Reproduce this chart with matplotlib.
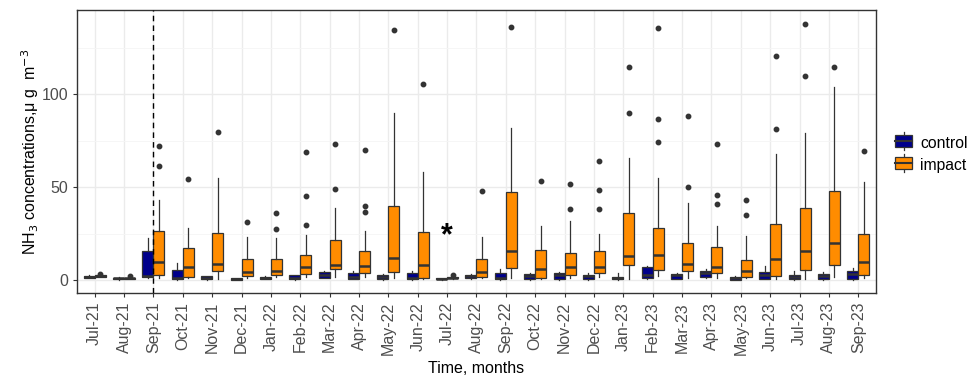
import matplotlib
matplotlib.use("Agg")
import matplotlib.pyplot as plt
from matplotlib.patches import Patch, Rectangle
from matplotlib.lines import Line2D

plt.rcParams['font.family'] = ['Liberation Sans', 'DejaVu Sans']

meses = ["Jul-21", "Aug-21", "Sep-21", "Oct-21", "Nov-21", "Dec-21", "Jan-22",
         "Feb-22", "Mar-22", "Apr-22", "May-22", "Jun-22", "Jul-22", "Aug-22",
         "Sep-22", "Oct-22", "Nov-22", "Dec-22", "Jan-23", "Feb-23", "Mar-23",
         "Apr-23", "May-23", "Jun-23", "Jul-23", "Aug-23", "Sep-23"]

# control: cuartiles, mediana y bigotes
ctrl_q1 = [1.4, 0.5, 1.6, 0.4, 0.5, 0.2, 0.7, 0.4, 1.4, 0.7, 0.4, 0.4, 0.5, 0.9,
           0.5, 0.5, 0.5, 0.5, 0.4, 1.2, 0.7, 1.6, 0.2, 0.7, 0.5, 0.5, 0.5]
ctrl_med = [1.9, 0.9, 2.3, 0.9, 1.2, 0.5, 1.2, 0.9, 2.8, 1.8, 1.8, 1.2, 0.8, 2.0,
            1.2, 2.1, 2.5, 2.3, 1.0, 2.7, 2.7, 3.7, 0.9, 2.7, 1.6, 2.0, 3.4]
ctrl_q3 = [2.3, 1.4, 15.5, 5.7, 2.0, 1.2, 1.6, 2.5, 4.4, 4.1, 3.0, 3.6, 1.2, 2.7,
           3.9, 3.2, 3.9, 2.7, 1.8, 7.1, 3.4, 5.0, 1.6, 4.4, 3.0, 3.2, 4.8]
ctrl_lo = [1.2, 0.3, 0.9, 0.2, 0.3, 0.1, 0.4, 0.2, 0.9, 0.4, 0.2, 0.2, 0.3, 0.5,
           0.3, 0.3, 0.3, 0.3, 0.2, 0.6, 0.4, 0.9, 0.1, 0.4, 0.3, 0.3, 0.3]
ctrl_hi = [2.6, 1.6, 22.6, 9.3, 2.4, 1.4, 2.3, 3.0, 5.0, 5.0, 3.4, 5.0, 1.4, 3.2,
           5.9, 3.9, 4.4, 3.9, 3.6, 7.7, 3.8, 6.2, 2.3, 7.8, 4.8, 4.4, 6.8]

# impact
imp_q1 = [1.8, 0.7, 3.0, 1.8, 4.8, 2.1, 2.8, 3.2, 5.9, 3.7, 4.4, 1.4, 0.9, 1.6,
          6.4, 1.2, 2.7, 3.7, 8.0, 5.3, 4.8, 3.9, 1.8, 2.0, 5.2, 8.4, 2.7]
imp_med = [2.2, 1.0, 10.0, 7.1, 8.7, 4.6, 5.0, 6.9, 8.2, 7.7, 11.9, 8.2, 1.2, 4.3,
           15.5, 6.2, 7.1, 6.9, 13.2, 13.3, 8.5, 7.3, 5.0, 11.2, 15.5, 19.9, 9.8]
imp_q3 = [2.7, 1.4, 26.2, 17.1, 25.3, 11.6, 11.6, 13.3, 21.7, 15.5, 39.7, 26.0, 1.6,
          11.2, 47.5, 16.0, 14.8, 15.7, 35.9, 28.1, 19.9, 17.6, 10.9, 30.2, 39.1,
          48.0, 25.1]
imp_lo = [1.6, 0.5, 1.2, 0.9, 0.5, 1.2, 1.6, 1.6, 1.6, 1.6, 0.9, 0.5, 0.7, 0.9,
          1.2, 0.7, 1.4, 1.6, 0.4, 2.3, 1.2, 1.4, 1.0, 0.5, 0.5, 1.6, 1.2]
imp_hi = [2.9, 1.6, 42.9, 27.9, 54.8, 23.1, 22.6, 24.4, 38.6, 26.5, 89.9, 58.4, 1.8,
          23.1, 81.9, 29.4, 31.7, 24.9, 65.5, 54.8, 41.6, 29.2, 23.8, 68.1, 79.4,
          104.1, 53.0]
imp_out = [[3.4], [2.1], [61.4, 72.4], [54.4], [79.5], [31.1], [27.8, 36.3],
           [29.7, 45.4, 69.2], [48.9, 73.5], [36.8, 39.9, 70.1], [134.7], [105.5],
           [3.0], [48.0], [136.1], [53.6], [38.3, 51.6], [38.1, 48.4, 64.4],
           [90.2, 114.8], [74.4, 86.5, 135.6], [50.2, 88.1], [40.9, 45.6, 73.3],
           [35.2, 43.4], [81.1, 120.5], [110.1, 137.9], [114.9], [69.6]]

COLOR_CTRL = "#00008B"
COLOR_IMP = "#FF8C00"
BORDE = "#333333"


def armar_stats(q1, med, q3, lo, hi, out=None):
    stats = []
    for i in range(len(q1)):
        stats.append({"q1": q1[i], "med": med[i], "q3": q3[i],
                      "whislo": lo[i], "whishi": hi[i],
                      "fliers": out[i] if out is not None else []})
    return stats


def dibujar(ax, stats, posiciones, color):
    ax.bxp(stats, positions=posiciones, widths=0.375, patch_artist=True,
           showcaps=False, manage_ticks=False,
           boxprops=dict(facecolor=color, edgecolor=BORDE, linewidth=0.9),
           medianprops=dict(color=BORDE, linewidth=1.8),
           whiskerprops=dict(color=BORDE, linewidth=0.9),
           flierprops=dict(marker='o', markersize=3.2, markerfacecolor=BORDE,
                           markeredgecolor=BORDE))


class HandlerCaja:
    """Dibuja la clave de la leyenda como una cajita de boxplot."""

    def legend_artist(self, legend, orig_handle, fontsize, handlebox):
        x0, y0 = handlebox.xdescent, handlebox.ydescent
        w, h = handlebox.width, handlebox.height
        tr = handlebox.get_transform()
        bigote = Line2D([x0 + w / 2, x0 + w / 2], [y0 - 0.2 * h, y0 + 1.2 * h],
                        color=BORDE, linewidth=0.9, transform=tr)
        caja = Rectangle((x0, y0 + 0.05 * h), w, 0.9 * h,
                         facecolor=orig_handle.get_facecolor(), edgecolor=BORDE,
                         linewidth=0.9, transform=tr)
        mediana = Line2D([x0, x0 + w], [y0 + h / 2, y0 + h / 2], color=BORDE,
                         linewidth=1.5, transform=tr)
        handlebox.add_artist(bigote)
        handlebox.add_artist(caja)
        handlebox.add_artist(mediana)
        return caja


fig = plt.figure(figsize=(9.79, 3.87), dpi=100)
ax = fig.add_axes([0.0787, 0.243, 0.816, 0.731])

x = list(range(1, len(meses) + 1))
dibujar(ax, armar_stats(ctrl_q1, ctrl_med, ctrl_q3, ctrl_lo, ctrl_hi),
        [v - 0.1875 for v in x], COLOR_CTRL)
dibujar(ax, armar_stats(imp_q1, imp_med, imp_q3, imp_lo, imp_hi, imp_out),
        [v + 0.1875 for v in x], COLOR_IMP)

ax.axvline(3, color="black", linestyle=(0, (4, 3)), linewidth=1.0, zorder=5)
ax.text(13, 23.5, "*", fontsize=22, ha="center", va="center",
        fontweight="bold", color="black")

ax.set_xlim(0.4, len(meses) + 0.6)
ax.set_ylim(-6.9, 145.4)
ax.set_xticks(x)
ax.set_xticklabels(meses, rotation=90, fontsize=11.5, color="#4d4d4d")
ax.set_yticks([0, 50, 100])
ax.set_yticks([25, 75, 125], minor=True)
ax.tick_params(axis="y", labelsize=11.5, labelcolor="#4d4d4d", color="#333333", length=3)
ax.tick_params(axis="x", color="#333333", length=3)
ax.tick_params(axis="y", which="minor", length=0)

ax.grid(True, which="major", color="#ebebeb", linewidth=1.0)
ax.grid(True, which="minor", axis="y", color="#f5f5f5", linewidth=0.6)
ax.set_axisbelow(True)
for s in ax.spines.values():
    s.set_color("#333333")
    s.set_linewidth(1.0)

ax.set_xlabel("Time, months", fontsize=11.5)
ax.set_ylabel("NH$_3$ concentrations,μ g  m$^{-3}$", fontsize=11.5)
ax.yaxis.set_label_coords(-0.045, 0.5)

handles = [Patch(facecolor=COLOR_CTRL), Patch(facecolor=COLOR_IMP)]
fig.legend(handles, ["control", "impact"], loc="center left",
           bbox_to_anchor=(0.9, 0.6), frameon=False, fontsize=11.3,
           handler_map={Patch: HandlerCaja()},
           handlelength=1.1, handleheight=0.9, handletextpad=0.5,
           labelspacing=0.45)

plt.savefig("out.png", dpi=100)
plt.close()
